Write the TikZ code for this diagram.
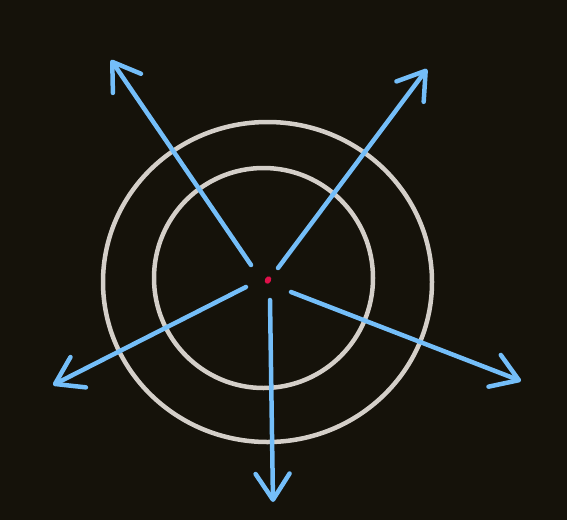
\documentclass[tikz,border=0pt]{standalone}
\usetikzlibrary{arrows.meta}
\definecolor{bg}{HTML}{15120A}
\definecolor{ring}{HTML}{D4CFC9}
\definecolor{ray}{HTML}{74BEF9}
\definecolor{dot}{HTML}{E0104A}
\tikzset{
  ringline/.style={draw=ring, line width=4.5pt},
  rayline/.style={draw=ray, line width=4.5pt, line cap=round, line join=round,
    -{Straight Barb[length=26pt,width=34pt,line cap=round,line join=round]}},
}
\begin{document}
\begin{tikzpicture}[x=1pt,y=-1pt]
\fill[bg] (0,0) rectangle (567,520);
\useasboundingbox (0,0) rectangle (567,520);
\draw[ringline] (267.5,282) ellipse [x radius=164.5, y radius=160];
\draw[ringline] (263.5,278) ellipse [x radius=109.5, y radius=110];
\fill[dot, rotate around={-30:(268,280)}] (268,280) ellipse [x radius=3, y radius=4];
\coordinate (s1) at (251,265); \coordinate (e1) at (111,60);
\coordinate (s2) at (278,268); \coordinate (e2) at (427,69);
\coordinate (s3) at (246,287); \coordinate (e3) at (53,385);
\coordinate (s4) at (291,292); \coordinate (e4) at (521,381);
\coordinate (s5) at (270,300); \coordinate (e5) at (273,502);
\draw[rayline] (s1) -- (e1);
\draw[rayline] (s2) -- (e2);
\draw[rayline] (s3) -- (e3);
\draw[rayline] (s4) -- (e4);
\draw[rayline] (s5) -- (e5);
\end{tikzpicture}
\end{document}
